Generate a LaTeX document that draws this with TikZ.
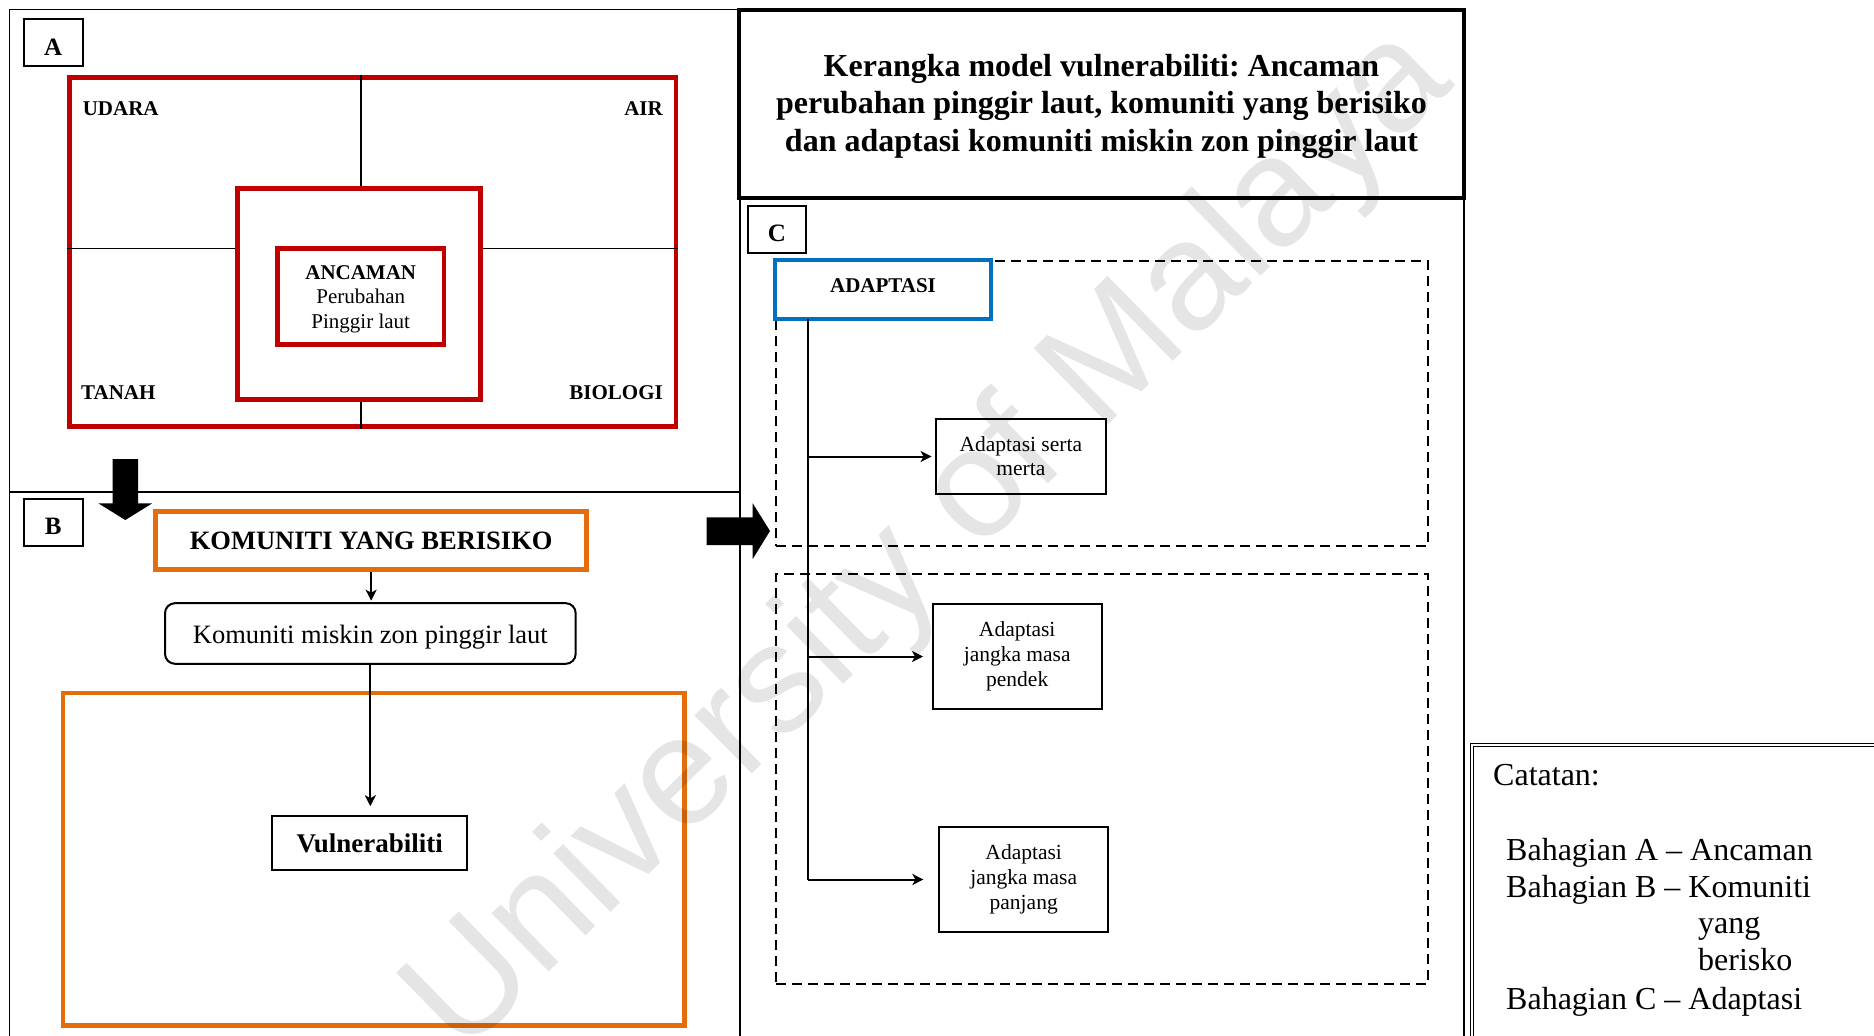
\documentclass[tikz,border=0pt]{standalone}
\usepackage{fontspec}
\setmainfont{Liberation Serif}
\newfontfamily\wmfont{Liberation Sans}
\usetikzlibrary{arrows.meta}
\definecolor{ared}{HTML}{C00000}
\definecolor{aorange}{HTML}{E46C0A}
\definecolor{ablue}{HTML}{0070C0}
\newcommand{\fsz}[2]{\fontsize{#1}{#2}\selectfont}
\frenchspacing

\begin{document}
\begin{tikzpicture}[x=1pt,y=-1pt,
  box/.style={draw, line width=2pt, inner sep=0pt, align=center},
  redbox/.style={draw=ared, line width=4.5pt, inner sep=0pt, align=center},
  orangebox/.style={draw=aorange, line width=4.5pt, inner sep=0pt, align=center},
  bluebox/.style={draw=ablue, line width=4.5pt, inner sep=0pt, align=center, fill=white},
  dashbox/.style={draw, line width=2pt, dash pattern=on 10pt off 6pt, inner sep=0pt},
  frame/.style={line width=2pt},
  divline/.style={line width=1.5pt},
  conn/.style={line width=2pt, -{Stealth[length=11pt,width=11pt,inset=3pt]}},
  seclabel/.style={box, font=\bfseries\fsz{25}{28}},
  corner/.style={font=\bfseries\fsz{21}{24}, inner sep=0pt},
  note/.style={font=\fsz{32}{37}, inner sep=0pt, anchor=base west},
]
\useasboundingbox (0,0) rectangle (1874,1036);
\clip (0,0) rectangle (1874,1036);

% ---------- outer frames ----------
\draw[divline] (9.4,1040) -- (9.4,9.3) -- (739.5,9.3);
\draw[frame] (739.5,9.3) -- (739.5,1040);
\draw[frame] (9.4,491.7) -- (739.5,491.7);
\draw[frame] (1463.5,198) -- (1463.5,1040);

% ---------- title ----------
\node[box, line width=3.5pt, minimum width=725pt, minimum height=188pt] (title) at (1101.5,104) {};
\node[font=\bfseries\fsz{32}{37.5}, align=center, inner sep=0pt] (titletext) at (1101.5,106)
  {Kerangka model vulnerabiliti: Ancaman\\perubahan pinggir laut, komuniti yang berisiko\\dan adaptasi komuniti miskin zon pinggir laut};

% ---------- section A : threat ----------
\node[seclabel, minimum width=59pt, text height=35.7pt, text depth=10.7pt] (labA) at (53.1,42.5) {A};
\node[redbox, minimum width=606.4pt, minimum height=349pt] (redOuter) at (372.6,252.2) {};
\node[redbox, minimum width=243pt, minimum height=211pt] (redMid) at (358.9,293.8) {};
\node[redbox, minimum width=166.5pt, minimum height=96pt] (redIn) at (360.75,296.3) {};
\node[font=\fsz{21}{24.5}, align=center, inner sep=0pt] (ancaman) at ([yshift=-3pt]redIn.center)
  {\textbf{ANCAMAN}\\Perubahan\\Pinggir laut};
\coordinate (crossY) at (0,248.6);
\draw[divline] (redOuter.north -| redIn.center) -- (redMid.north -| redIn.center);
\draw[divline] (redMid.south -| redIn.center) -- (redOuter.south -| redIn.center);
\draw[divline] (redOuter.west |- crossY) -- (redMid.west |- crossY);
\draw[divline] (redMid.east |- crossY) -- (redOuter.east |- crossY);
\node[corner, anchor=base west] (udara) at (82.6,115) {UDARA};
\node[corner, anchor=base east] (air) at (663,115) {AIR};
\node[corner, anchor=base west] (tanah) at (81,399) {TANAH};
\node[corner, anchor=base east] (biologi) at (663,399) {BIOLOGI};

% ---------- section B : community at risk ----------
\node[seclabel, minimum width=59pt, text height=34.8pt, text depth=12.3pt] (labB) at (53.1,522.85) {B};
\node[orangebox, minimum width=430.9pt, minimum height=57.9pt, font=\bfseries\fsz{26.5}{30}] (kom) at (371.15,540.65)
  {KOMUNITI YANG BERISIKO};
\node[box, rounded corners=10pt, minimum width=410.7pt, text height=39.8pt, text depth=20.8pt,
      font=\fsz{26.5}{29}] (miskin) at (370.35,633.5)
  {Komuniti miskin zon pinggir laut};
\node[orangebox, minimum width=621.5pt, minimum height=332.6pt] (vulzone) at (373.55,859.2) {};
\node[box, minimum width=194.9pt, minimum height=53.5pt, font=\bfseries\fsz{27}{30}] (vul) at (369.75,842.95)
  {Vulnerabiliti};
\draw[conn, shorten >=1.5pt] (kom.south) -- (kom.south |- miskin.north);
\draw[conn, shorten >=9pt] (miskin.south) -- (miskin.south |- vul.north);

% block arrows between sections
\fill (112.5,459) -- (138,459) -- (138,503.3) -- (152.3,503.3) -- (125.3,520)
      -- (98.3,503.3) -- (112.5,503.3) -- cycle;
\fill (706.7,517.3) -- (752.7,517.3) -- (752.7,503.3) -- (770,531)
      -- (752.7,559) -- (752.7,545) -- (706.7,545) -- cycle;

% ---------- section C : adaptation ----------
\node[seclabel, minimum width=58pt, text height=34.9pt, text depth=11.6pt] (labC) at (777,229.65) {C};
\node[dashbox, minimum width=652pt, minimum height=285pt] (zone1) at (1102,403.2) {};
\node[dashbox, minimum width=652pt, minimum height=410pt] (zone2) at (1102,779.3) {};
\node[bluebox, minimum width=216pt, text height=32.8pt, text depth=26.2pt, font=\bfseries\fsz{21}{24}] (adapt) at (883,289.5) {ADAPTASI};
\node[box, minimum width=169.7pt, minimum height=75pt, font=\fsz{21.5}{24}] (serta) at (1020.85,456.5)
  {Adaptasi serta\\merta};
\node[box, minimum width=169.2pt, minimum height=104.7pt, font=\fsz{21.5}{25}] (pendek) at (1017.2,656.5)
  {Adaptasi\\jangka masa\\pendek};
\node[box, minimum width=168.6pt, minimum height=104.7pt, font=\fsz{21.5}{25}] (panjang) at (1023.7,879.5)
  {Adaptasi\\jangka masa\\panjang};
\coordinate (trunk) at (807.6,319);
\draw[line width=2pt] (trunk) -- (trunk |- panjang.west);
\draw[conn, shorten >=3.4pt] (trunk |- serta.west) -- (serta.west);
\draw[conn, shorten >=8.6pt] (trunk |- pendek.west) -- (pendek.west);
\draw[conn, shorten >=15pt] (trunk |- panjang.west) -- (panjang.west);

% ---------- notes ----------
\draw[line width=1.2pt, double, double distance=1.6pt] (1472,1045) -- (1472,745) -- (1885,745);
\node[note] (catatan) at (1493,785) {Catatan:};
\node[note] (notA) at (1506,860.5) {Bahagian A -- Ancaman};
\node[note] (notB) at (1506,897.5) {Bahagian B -- Komuniti};
\node[note] (notB2) at (1698,933.5) {yang};
\node[note] (notB3) at (1698,970.5) {berisko};
\node[note] (notC) at (1506,1009.5) {Bahagian C -- Adaptasi};

% ---------- watermark ----------
\node[rotate=44.4, anchor=base west, inner sep=0pt, font=\wmfont\fsz{154.5}{154.5},
      text=black, text opacity=0.1] (wm) at (462,1058)
  {University of Malaya};
\end{tikzpicture}
\end{document}
